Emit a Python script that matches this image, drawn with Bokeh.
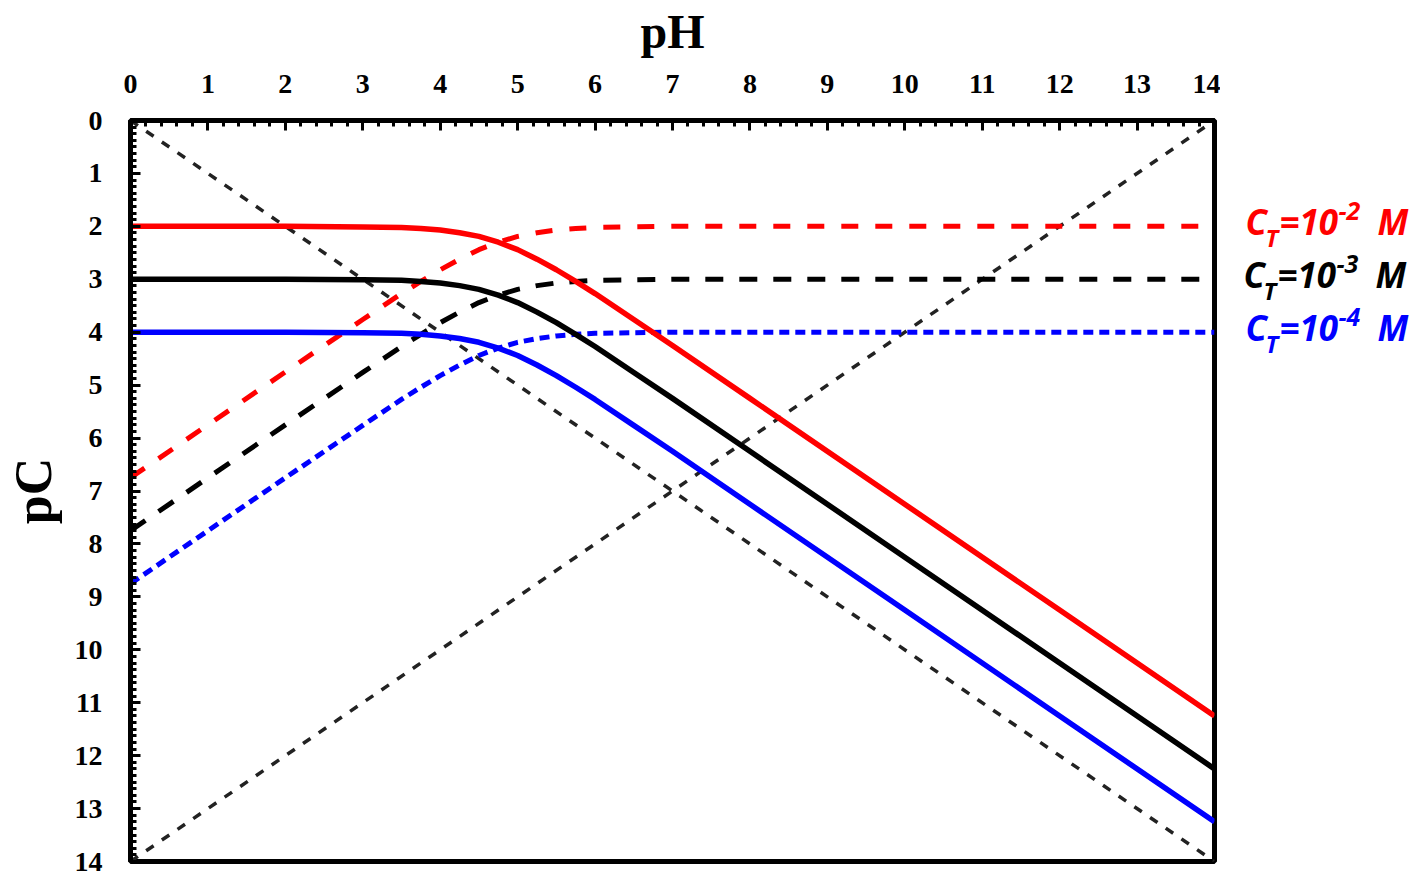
from bokeh.plotting import figure
from bokeh.models import Range1d, SingleIntervalTicker
from bokeh.layouts import row
from bokeh.core.properties import value
from bokeh.embed import file_html
from bokeh.resources import INLINE

# ---- data ----
ph = [0, 2, 3, 3.5, 3.75, 4, 4.25, 4.5, 4.75, 5, 5.25, 5.5, 5.75, 6, 6.5, 7, 8, 10, 12, 14]

# solid curves (acid form)
ha_2 = [2.00, 2.00, 2.01, 2.02, 2.04, 2.07, 2.12, 2.19, 2.30, 2.44, 2.62, 2.82, 3.04, 3.27, 3.76, 4.25, 5.25, 7.25, 9.25, 11.25]
ha_3 = [3.00, 3.00, 3.01, 3.02, 3.04, 3.07, 3.12, 3.19, 3.30, 3.44, 3.62, 3.82, 4.04, 4.27, 4.76, 5.25, 6.25, 8.25, 10.25, 12.25]
ha_4 = [4.00, 4.00, 4.01, 4.02, 4.04, 4.07, 4.12, 4.19, 4.30, 4.44, 4.62, 4.82, 5.04, 5.27, 5.76, 6.25, 7.25, 9.25, 11.25, 13.25]

# dashed curves (base form)
a_2 = [6.75, 4.75, 3.76, 3.27, 3.04, 2.82, 2.62, 2.44, 2.30, 2.19, 2.12, 2.07, 2.04, 2.02, 2.01, 2.00, 2.00, 2.00, 2.00, 2.00]
a_3 = [7.75, 5.75, 4.76, 4.27, 4.04, 3.82, 3.62, 3.44, 3.30, 3.19, 3.12, 3.07, 3.04, 3.02, 3.01, 3.00, 3.00, 3.00, 3.00, 3.00]
a_4 = [8.75, 6.75, 5.76, 5.27, 5.04, 4.82, 4.62, 4.44, 4.30, 4.19, 4.12, 4.07, 4.04, 4.02, 4.01, 4.00, 4.00, 4.00, 4.00, 4.00]

# H+ and OH- lines
ph_ends = [0, 14]
h_line = [0, 14]
oh_line = [14, 0]

# right-hand labels: C_T = 10^x M
label_sup = ["-2", "-3", "-4"]
label_levels = [2, 3, 4]
label_colors = ["#ff0000", "#000000", "#0000ff"]

TOP, BOTTOM = 120, 15
H = 876
yr = Range1d(14, 0)

p = figure(width=1220, height=H, output_backend="svg", toolbar_location=None,
           x_range=Range1d(0, 14), y_range=yr,
           x_axis_location="above", min_border_left=130, min_border_right=6,
           min_border_top=TOP, min_border_bottom=BOTTOM)
p.xgrid.visible = False
p.ygrid.visible = False
p.background_fill_color = "white"
p.border_fill_color = "white"
p.outline_line_color = "black"
p.outline_line_width = 5

p.xaxis.ticker = SingleIntervalTicker(interval=1, num_minor_ticks=5)
p.yaxis.ticker = SingleIntervalTicker(interval=1, num_minor_ticks=8)

for ax in (p.xaxis[0], p.yaxis[0]):
    ax.axis_line_width = 5
    ax.axis_line_color = "black"
    ax.major_tick_in = 10
    ax.major_tick_out = 0
    ax.minor_tick_in = 6
    ax.minor_tick_out = 0
    ax.major_tick_line_width = 3
    ax.minor_tick_line_width = 3
    ax.major_label_text_font = "Liberation Serif"
    ax.major_label_text_font_style = "bold"
    ax.major_label_text_font_size = "28px"
    ax.major_label_text_color = "black"
    ax.axis_label_text_font = "Liberation Serif"
    ax.axis_label_text_font_style = "bold"
    ax.axis_label_text_color = "black"

p.xaxis.axis_label = "pH"
p.yaxis.axis_label = "pC"
p.xaxis.axis_label_text_font_size = "48px"
p.yaxis.axis_label_text_font_size = "52px"
p.xaxis.major_label_standoff = 28
p.xaxis.axis_label_standoff = 14
p.yaxis.major_label_standoff = 28
p.yaxis.axis_label_standoff = 10

# diagonal reference lines
p.line(ph_ends, h_line, line_color="#222222", line_width=3.5, line_dash="9 10")
p.line(ph_ends, oh_line, line_color="#222222", line_width=3.5, line_dash="9 10")

# dashed base-form curves
p.line(ph, a_2, line_color="#ff0000", line_width=5, line_dash="17 17")
p.line(ph, a_3, line_color="#000000", line_width=5, line_dash="18 16")
p.line(ph, a_4, line_color="#0000ff", line_width=5, line_dash="10 6")

# solid acid-form curves
p.line(ph, ha_2, line_color="#ff0000", line_width=5.5)
p.line(ph, ha_3, line_color="#000000", line_width=5.5)
p.line(ph, ha_4, line_color="#0000ff", line_width=5.5)

# side panel with the C_T labels
W2 = 197
p2 = figure(width=W2, height=H, output_backend="svg", toolbar_location=None,
            x_range=Range1d(0, W2), y_range=yr,
            x_axis_location=None, y_axis_location=None,
            min_border_left=0, min_border_right=0,
            min_border_top=TOP, min_border_bottom=BOTTOM)
p2.xgrid.visible = False
p2.ygrid.visible = False
p2.outline_line_color = None
p2.background_fill_color = "white"
p2.border_fill_color = "white"

font = value("Open Sans")
for sup, lvl, col, dx in zip(label_sup, label_levels, label_colors, [0, -2, 0]):
    pieces = [
        ("C", 25 + dx, -5, "35px"),
        ("T", 45 + dx, 11, "24px"),
        ("=10", 59 + dx, -5, "35px"),
        (sup, 118 + dx, -15, "25px"),
        ("M", 157 + dx, -5, "35px"),
    ]
    for txt, xo, yo, fs in pieces:
        p2.text(x=[xo], y=[lvl], text=[txt], y_offset=yo,
                text_font=font, text_font_style="bold italic",
                text_font_size=fs, text_color=col,
                text_baseline="alphabetic", text_align="left")

layout = row(p, p2)
open("out.html", "w").write(file_html(layout, INLINE))
